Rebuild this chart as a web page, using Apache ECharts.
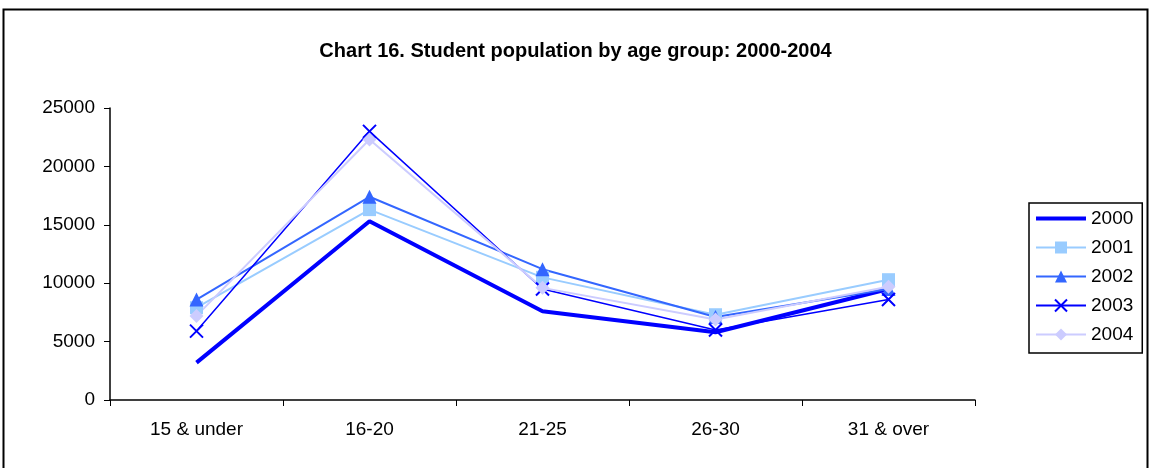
<!DOCTYPE html>
<html><head><meta charset="utf-8">
<script src="https://cdn.jsdelivr.net/npm/echarts@6/dist/echarts.min.js"></script>
<style>html,body{margin:0;padding:0;background:#fff}#c{width:1151px;height:468px}</style>
</head><body><div id="c"></div>
<script>
const categories = ['15 & under', '16-20', '21-25', '26-30', '31 & over'];
const years = ['2000', '2001', '2002', '2003', '2004'];
const v2000 = [3200, 15300, 7600, 5800, 9500];
const v2001 = [7900, 16300, 10500, 7300, 10300];
const v2002 = [8600, 17400, 11200, 7100, 9500];
const v2003 = [5900, 23000, 9500, 6000, 8600];
const v2004 = [7200, 22300, 9600, 6900, 9700];
const yTicks = [0, 5000, 10000, 15000, 20000, 25000];

const chart = echarts.init(document.getElementById('c'));
const font = 'Liberation Sans, Arial, sans-serif';
const crossPath = 'path://M0,0L10,10M10,0L0,10';
chart.setOption({
  animation: false,
  title: {
    text: 'Chart 16. Student population by age group: 2000-2004',
    left: 'center', top: 36,
    textStyle: {fontFamily: font, fontSize: 20, fontWeight: 'bold', color: '#000'}
  },
  graphic: [{
    type: 'rect', shape: {x: 3.5, y: 9.5, width: 1144, height: 480},
    style: {fill: 'none', stroke: '#000', lineWidth: 2}, silent: true, z: -1
  }],
  legend: {
    orient: 'vertical', left: 1029, top: 203,
    data: [
      {name: years[0], itemStyle: {opacity: 0}, lineStyle: {width: 4}},
      years[1], years[2], years[3], years[4]
    ],
    itemWidth: 50, itemHeight: 15, itemGap: 10,
    padding: [6, 9, 9, 5],
    borderColor: '#000', borderWidth: 1.5,
    textStyle: {fontFamily: font, fontSize: 19, color: '#000'}
  },
  grid: {left: 110, right: 176, top: 108, bottom: 68},
  xAxis: {
    type: 'category', data: categories, boundaryGap: true,
    axisLine: {lineStyle: {color: '#000', width: 1.5}},
    axisTick: {show: true, length: 6, lineStyle: {color: '#000', width: 1}},
    axisLabel: {fontFamily: font, fontSize: 19, color: '#000', margin: 20}
  },
  yAxis: {
    type: 'value', min: yTicks[0], max: yTicks[yTicks.length - 1], interval: 5000,
    axisLine: {show: true, lineStyle: {color: '#000', width: 1.5}},
    axisTick: {show: true, length: 6, lineStyle: {color: '#000', width: 1}},
    splitLine: {show: false},
    axisLabel: {fontFamily: font, fontSize: 19, color: '#000', margin: 15,
      formatter: v => String(v)}
  },
  series: [
    {name: '2000', type: 'line', data: v2000, symbol: 'none',
     lineStyle: {color: '#0000FF', width: 4}, itemStyle: {color: '#0000FF'}},
    {name: '2001', type: 'line', data: v2001, symbol: 'rect', symbolSize: 13,
     lineStyle: {color: '#99CCFF', width: 2}, itemStyle: {color: '#99CCFF'}},
    {name: '2002', type: 'line', data: v2002, symbol: 'triangle', symbolSize: 14,
     lineStyle: {color: '#3366FF', width: 2}, itemStyle: {color: '#3366FF'}},
    {name: '2003', type: 'line', data: v2003, symbol: crossPath, symbolSize: 13,
     lineStyle: {color: '#0000FF', width: 1.5},
     itemStyle: {color: '#0000FF', borderColor: '#0000FF', borderWidth: 2}},
    {name: '2004', type: 'line', data: v2004, symbol: 'diamond', symbolSize: 14,
     lineStyle: {color: '#CCCCFF', width: 2}, itemStyle: {color: '#CCCCFF'}}
  ]
});
</script></body></html>
